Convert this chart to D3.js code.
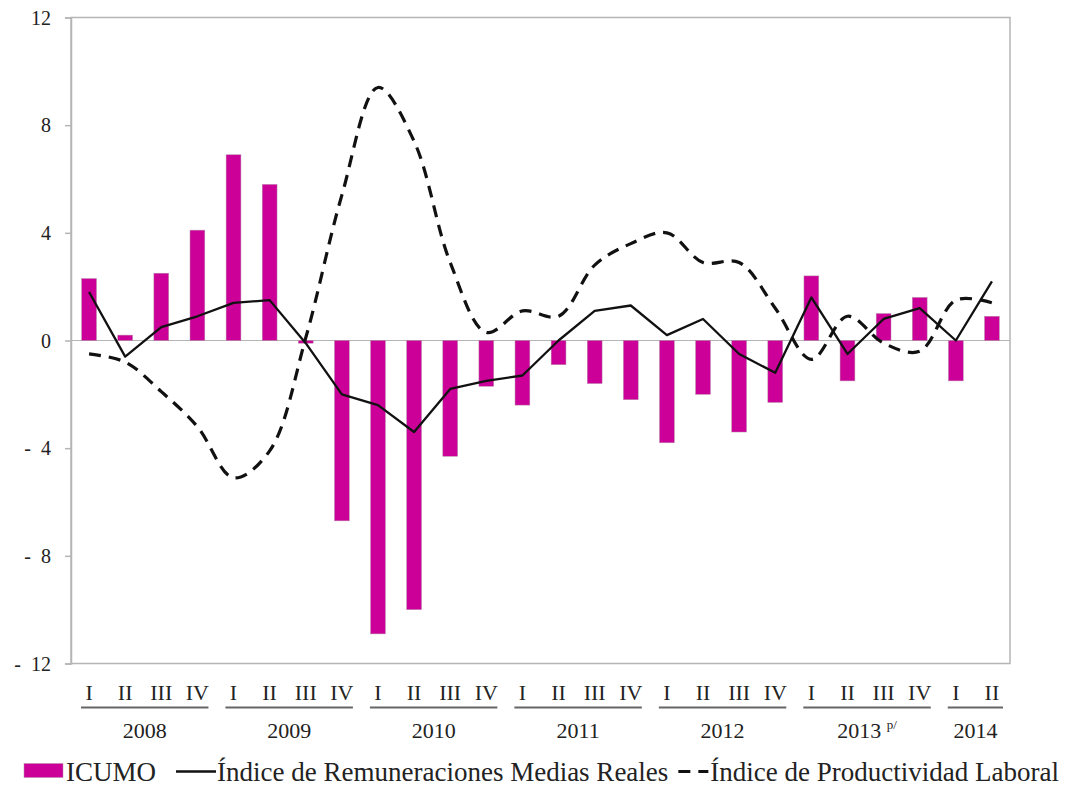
<!DOCTYPE html>
<html>
<head>
<meta charset="utf-8">
<script src="https://cdn.jsdelivr.net/npm/d3@7"></script>
<style>
  html, body { margin: 0; padding: 0; background: #fff; }
  svg { display: block; }
  text { font-family: "Liberation Serif", "Times New Roman", serif; fill: #222; }
</style>
</head>
<body>
<svg id="chart" width="1069" height="785"></svg>
<script>
// ---------- data ----------
const years = ["2008", "2009", "2010", "2011", "2012", "2013", "2014"];
const yearNotes = ["", "", "", "", "", "p/", ""];
const quarterLabels = ["I", "II", "III", "IV"];
const quartersPerYear = [4, 4, 4, 4, 4, 4, 2];

const icumo = [2.3, 0.2, 2.5, 4.1, 6.9, 5.8, -0.1, -6.7, -10.9, -10.0, -4.3, -1.7,
               -2.4, -0.9, -1.6, -2.2, -3.8, -2.0, -3.4, -2.3, 2.4, -1.5, 1.0, 1.6, -1.5, 0.9];
const remuneraciones = [1.8, -0.6, 0.5, 0.9, 1.4, 1.5, -0.1, -2.0, -2.4, -3.4, -1.8, -1.5,
               -1.3, 0.0, 1.1, 1.3, 0.2, 0.8, -0.5, -1.2, 1.6, -0.5, 0.8, 1.2, 0.0, 2.2];
const productividad = [-0.5, -0.8, -1.9, -3.2, -5.1, -4.1, 0.1, 5.4, 9.4, 7.4, 2.9, 0.3,
               1.1, 0.9, 2.8, 3.6, 4.0, 2.9, 2.9, 1.2, -0.7, 0.9, -0.1, -0.4, 1.5, 1.4];
const yTicks = [12, 8, 4, 0, -4, -8, -12];
const seriesNames = ["ICUMO", "Índice de Remuneraciones Medias Reales", "Índice de Productividad Laboral"];

// categories built from years/quarters
const categories = [];
years.forEach((y, i) => {
  for (let q = 0; q < quartersPerYear[i]; q++) categories.push({ year: y, yi: i, q: quarterLabels[q] });
});
const idx = categories.map((d, i) => i);

// ---------- layout ----------
const svg = d3.select("#chart");
const plot = { left: 71, right: 1010, top: 17.5, bottom: 663.5 };
const x = d3.scaleBand().domain(idx).range([plot.left, plot.right]).paddingInner(0).paddingOuter(0);
const y = d3.scaleLinear().domain([-12, 12]).range([plot.bottom, plot.top]);
const magenta = "#CC0099";
const grid = "#b5b5b5";

// plot frame
svg.append("rect")
  .attr("x", plot.left).attr("y", plot.top)
  .attr("width", plot.right - plot.left).attr("height", plot.bottom - plot.top)
  .attr("fill", "none").attr("stroke", grid).attr("stroke-width", 1.5);

// y axis
const yAxis = d3.axisLeft(y).tickValues(yTicks).tickSize(6).tickPadding(14)
  .tickFormat(d => d < 0 ? "-\u00a0\u00a0" + Math.abs(d) : String(d));
const gy = svg.append("g").attr("transform", `translate(${plot.left},0)`).call(yAxis);
gy.select(".domain").attr("stroke", grid).attr("stroke-width", 1.5);
gy.selectAll(".tick line").attr("stroke", grid).attr("stroke-width", 1.5);
gy.selectAll(".tick text").attr("font-size", 20).attr("font-family", "Liberation Serif").attr("fill", "#222").attr("dy", "0.34em");

// zero line
svg.append("line")
  .attr("x1", plot.left).attr("x2", plot.right)
  .attr("y1", y(0)).attr("y2", y(0))
  .attr("stroke", grid).attr("stroke-width", 1.2);

// bars
const barW = x.bandwidth() * 0.41;
svg.append("g").selectAll("rect").data(icumo).join("rect")
  .attr("x", (d, i) => x(i) + (x.bandwidth() - barW) / 2)
  .attr("width", barW)
  .attr("y", d => y(Math.max(0, d)))
  .attr("height", d => Math.abs(y(d) - y(0)))
  .attr("fill", magenta)
  .attr("stroke", "#b58aa8").attr("stroke-width", 0.5);

const cx = i => x(i) + x.bandwidth() / 2;

// solid line
svg.append("path")
  .datum(remuneraciones)
  .attr("fill", "none").attr("stroke", "#111").attr("stroke-width", 2.3)
  .attr("stroke-linejoin", "round")
  .attr("d", d3.line().x((d, i) => cx(i)).y(d => y(d)));

// dashed smoothed line
svg.append("path")
  .datum(productividad)
  .attr("fill", "none").attr("stroke", "#111").attr("stroke-width", 3.2)
  .attr("stroke-dasharray", "12,8")
  .attr("d", d3.line().x((d, i) => cx(i)).y(d => y(d)).curve(d3.curveCatmullRom.alpha(0.5)));

// x axis: quarter labels
const gx = svg.append("g");
gx.selectAll("text.q").data(categories).join("text")
  .attr("class", "q")
  .attr("x", (d, i) => cx(i)).attr("y", 700)
  .attr("text-anchor", "middle").attr("font-size", 22)
  .text(d => d.q);

// year groups
let start = 0;
years.forEach((yr, i) => {
  const n = quartersPerYear[i];
  const x0 = x(start) + 10;
  const x1 = x(start + n - 1) + x.bandwidth() - 7;
  gx.append("line").attr("x1", x0).attr("x2", x1).attr("y1", 707.5).attr("y2", 707.5)
    .attr("stroke", "#666").attr("stroke-width", 2);
  const t = gx.append("text").attr("x", (x0 + x1) / 2).attr("y", 738)
    .attr("text-anchor", "middle").attr("font-size", 22);
  t.append("tspan").text(yr);
  if (yearNotes[i]) {
    t.append("tspan").text("\u00a0").attr("font-size", 22);
    t.append("tspan").text(yearNotes[i]).attr("font-size", 13).attr("dy", -9);
  }
  start += n;
});

// legend
const lg = svg.append("g");
const ly = 771.5, fs = 27;
let lx = 24;
lg.append("rect").attr("x", lx).attr("y", ly - 8).attr("width", 39).attr("height", 14)
  .attr("fill", magenta).attr("stroke", "#b58aa8").attr("stroke-width", 0.5);
lx += 42;
let t1 = lg.append("text").attr("x", lx).attr("y", ly + 9).attr("font-size", fs).text(seriesNames[0]);
lx += t1.node().getComputedTextLength() + 20;
lg.append("line").attr("x1", lx).attr("x2", lx + 40).attr("y1", ly).attr("y2", ly)
  .attr("stroke", "#111").attr("stroke-width", 2.3);
lx += 41;
let t2 = lg.append("text").attr("x", lx).attr("y", ly + 9).attr("font-size", fs).text(seriesNames[1]);
lx += t2.node().getComputedTextLength() + 10;
lg.append("line").attr("x1", lx).attr("x2", lx + 30).attr("y1", ly).attr("y2", ly)
  .attr("stroke", "#111").attr("stroke-width", 3.2).attr("stroke-dasharray", "12,8");
lx += 32;
lg.append("text").attr("x", lx).attr("y", ly + 9).attr("font-size", fs).text(seriesNames[2]);
</script>
</body>
</html>
